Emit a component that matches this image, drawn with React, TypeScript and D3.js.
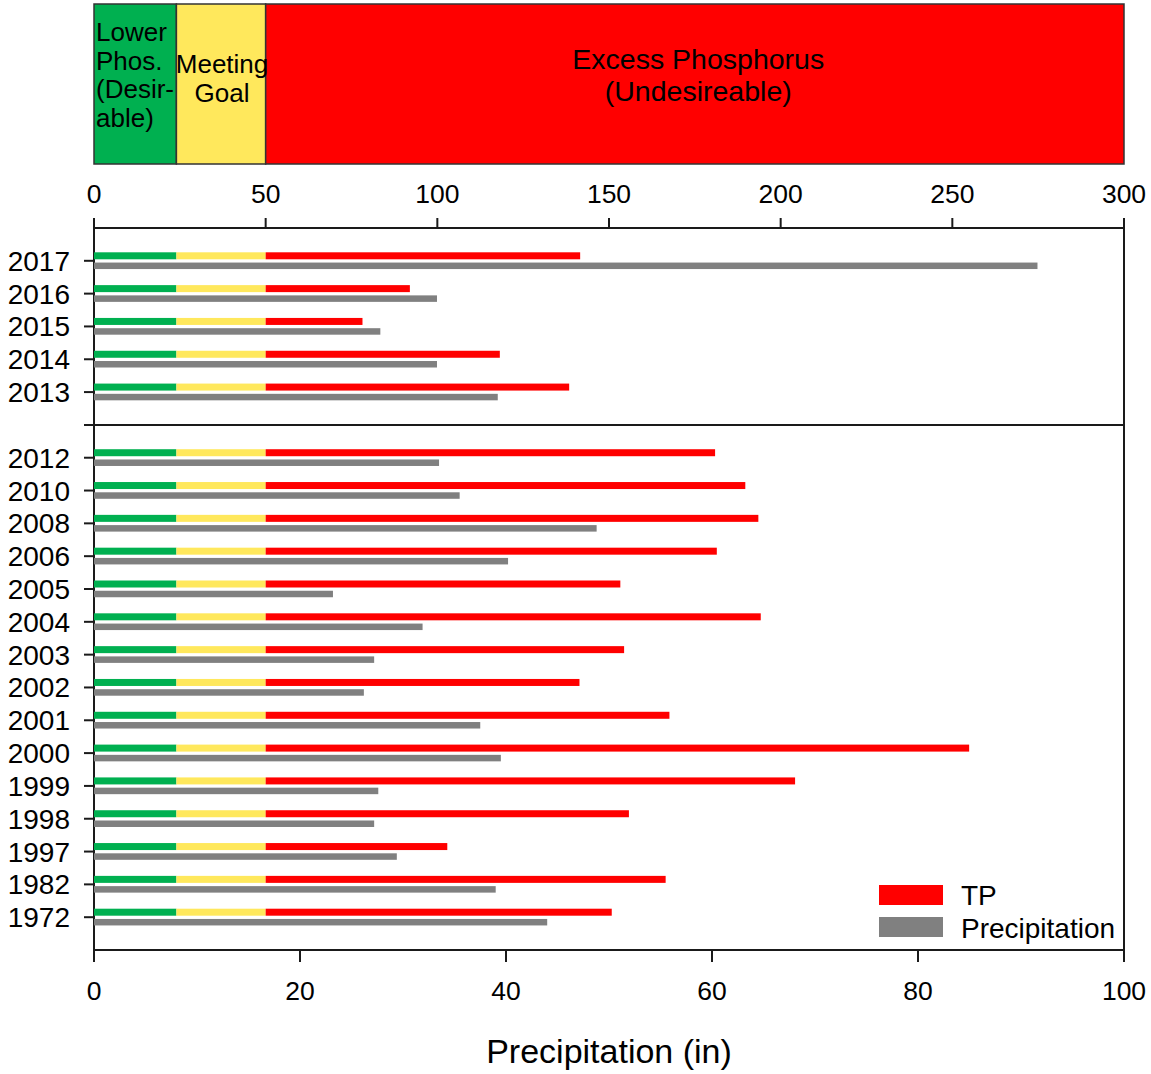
import React from "react";
import * as d3 from "d3";

// Sampling years, split into the recent monitoring block and the historic record
const recentYears = ["2017", "2016", "2015", "2014", "2013"];
const historicYears = ["2012", "2010", "2008", "2006", "2005", "2004", "2003", "2002", "2001", "2000", "1999", "1998", "1997", "1982", "1972"];

// Total phosphorus (µg/L) per year, same order as the year lists
const recentTP = [141.6, 92.0, 78.2, 118.2, 138.4];
const historicTP = [180.9, 189.7, 193.5, 181.4, 153.3, 194.2, 154.4, 141.4, 167.6, 254.9, 204.2, 155.8, 102.9, 166.5, 150.8];

// Annual precipitation (in)
const recentPrecip = [91.6, 33.3, 27.8, 33.3, 39.2];
const historicPrecip = [33.5, 35.5, 48.8, 40.2, 23.2, 31.9, 27.2, 26.2, 37.5, 39.5, 27.6, 27.2, 29.4, 39.0, 44.0];

// Phosphorus condition zones
const zoneBreaks = [0, 24, 50, 300];
const zoneColors = ["#00b050", "#ffe85c", "#ff0000"];

const tpTicks = [0, 50, 100, 150, 200, 250, 300];
const precipTicks = [0, 20, 40, 60, 80, 100];

const GAP = "gap";

export default function App() {
  const W = 1151;
  const H = 1074;
  const left = 94;
  const right = 1124;
  const bandTop = 4;
  const bandBottom = 164;
  const plotTop = 228;
  const plotBottom = 950;
  const axisColor = "#1a1a1a";
  const font = "Arial, 'Liberation Sans', sans-serif";

  const xTP = d3.scaleLinear().domain([0, 300]).range([left, right]);
  const xPr = d3.scaleLinear().domain([0, 100]).range([left, right]);

  const slots = [...recentYears, GAP, ...historicYears];
  const y = d3.scalePoint<string>().domain(slots).range([260.8, 917.2]);

  const rows = [
    ...recentYears.map((yr, i) => ({ yr, tp: recentTP[i], pr: recentPrecip[i] })),
    ...historicYears.map((yr, i) => ({ yr, tp: historicTP[i], pr: historicPrecip[i] })),
  ];

  const zones = zoneColors.map((c, i) => ({ c, a: zoneBreaks[i], b: zoneBreaks[i + 1] }));

  const barH = 7;
  const greyH = 6.5;

  return (
    <svg width={W} height={H} style={{ position: "absolute", left: 0, top: 0, background: "#fff" }} fontFamily={font}>
      <rect x={0} y={0} width={W} height={H} fill="#fff" />

      {/* zone band */}
      {zones.map((z, i) => (
        <rect key={i} x={xTP(z.a)} y={bandTop} width={xTP(z.b) - xTP(z.a)} height={bandBottom - bandTop}
          fill={z.c} stroke="#333" strokeWidth={1.5} />
      ))}
      <g fill="#000">
        {["Lower", "Phos.", "(Desir-", "able)"].map((t, i) => (
          <text key={t} x={xTP(0) + 2} y={41 + i * 28.7} fontSize={26}>{t}</text>
        ))}
        {["Meeting", "Goal"].map((t, i) => (
          <text key={t} x={(xTP(24) + xTP(50)) / 2 + 1} y={73 + i * 28.5} fontSize={26} textAnchor="middle">{t}</text>
        ))}
        {["Excess Phosphorus", "(Undesireable)"].map((t, i) => (
          <text key={t} x={xTP(176)} y={69 + i * 31.5} fontSize={28.5} textAnchor="middle">{t}</text>
        ))}
      </g>

      {/* top TP axis */}
      <line x1={left} x2={right} y1={plotTop} y2={plotTop} stroke={axisColor} strokeWidth={2} />
      {tpTicks.map(t => (
        <g key={t}>
          <line x1={xTP(t)} x2={xTP(t)} y1={plotTop} y2={plotTop - 10} stroke={axisColor} strokeWidth={2} />
          <text x={xTP(t)} y={203} fontSize={26.5} textAnchor="middle">{t}</text>
        </g>
      ))}

      {/* frame */}
      <line x1={left} x2={left} y1={plotTop - 10} y2={plotBottom + 12} stroke={axisColor} strokeWidth={2} />
      <line x1={right} x2={right} y1={plotTop - 10} y2={plotBottom + 12} stroke={axisColor} strokeWidth={2} />
      <line x1={left - 10} x2={right} y1={y(GAP)!} y2={y(GAP)!} stroke={axisColor} strokeWidth={2} />

      {/* year ticks and labels */}
      {rows.map(r => (
        <g key={r.yr}>
          <line x1={left - 10} x2={left} y1={y(r.yr)!} y2={y(r.yr)!} stroke={axisColor} strokeWidth={2} />
          <text x={70} y={y(r.yr)! + 10} fontSize={28} textAnchor="end">{r.yr}</text>
        </g>
      ))}

      {/* bars */}
      {rows.map(r => {
        const cy = y(r.yr)!;
        return (
          <g key={"b" + r.yr}>
            {zones.filter(z => r.tp > z.a).map((z, i) => (
              <rect key={i} x={xTP(z.a)} y={cy - 5 - barH / 2} width={xTP(Math.min(r.tp, z.b)) - xTP(z.a)} height={barH} fill={z.c} />
            ))}
            <rect x={xPr(0)} y={cy + 5 - greyH / 2} width={xPr(r.pr) - xPr(0)} height={greyH} fill="#808080" />
          </g>
        );
      })}

      {/* bottom precipitation axis */}
      <line x1={left} x2={right} y1={plotBottom} y2={plotBottom} stroke={axisColor} strokeWidth={2} />
      {precipTicks.map(t => (
        <g key={t}>
          <line x1={xPr(t)} x2={xPr(t)} y1={plotBottom} y2={plotBottom + 12} stroke={axisColor} strokeWidth={2} />
          <text x={xPr(t)} y={1000} fontSize={26.5} textAnchor="middle">{t}</text>
        </g>
      ))}
      <text x={(left + right) / 2} y={1063} fontSize={34} textAnchor="middle">Precipitation (in)</text>

      {/* legend */}
      <rect x={879} y={885} width={64} height={20} fill="#ff0000" />
      <rect x={879} y={917} width={64} height={20} fill="#808080" />
      <text x={961} y={905} fontSize={28}>TP</text>
      <text x={961} y={938} fontSize={28}>Precipitation</text>
    </svg>
  );
}
